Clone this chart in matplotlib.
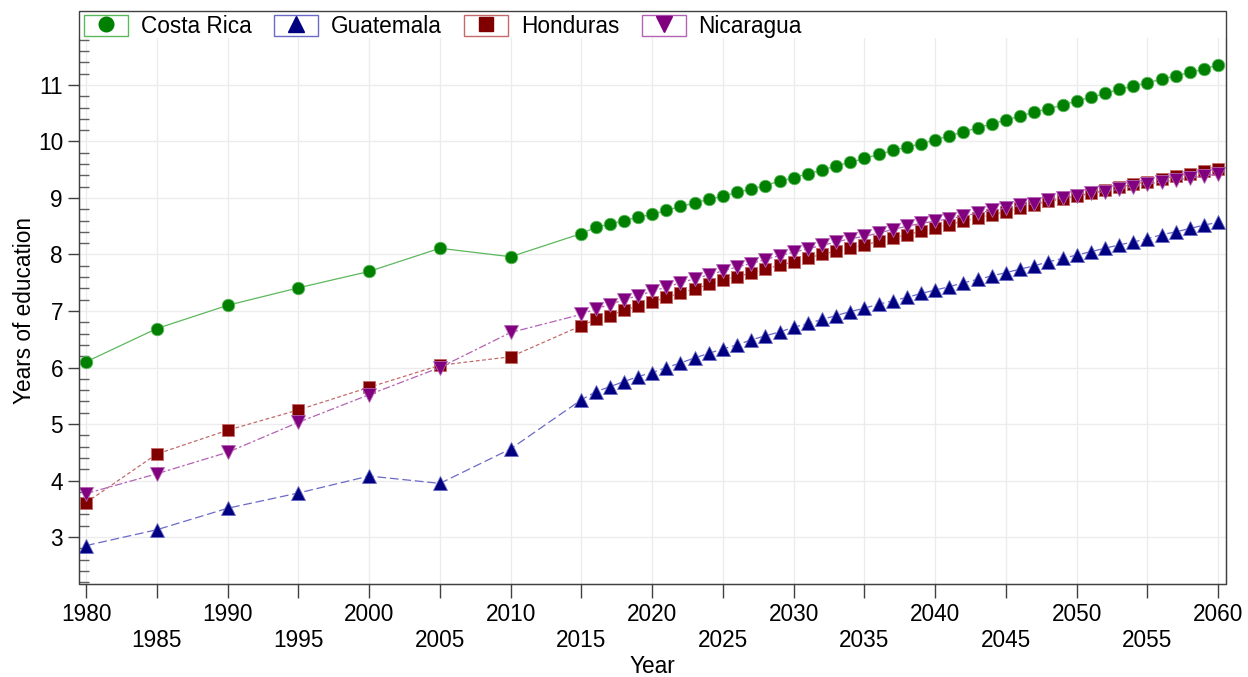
import matplotlib
matplotlib.use('Agg')
import matplotlib.pyplot as plt
from matplotlib.lines import Line2D
from matplotlib.patches import Rectangle
from matplotlib.ticker import FixedLocator

plt.rcParams['font.family'] = ['Liberation Sans', 'DejaVu Sans']

# years: 5-yearly history, then yearly projections
years = [1980, 1985, 1990, 1995, 2000, 2005, 2010, 2015] + list(range(2016, 2061))

costa_rica = [6.10, 6.69, 7.10, 7.41, 7.70, 8.11, 7.96, 8.37,
              8.48, 8.54, 8.60, 8.66, 8.71, 8.78, 8.85, 8.91, 8.98, 9.03,
              9.10, 9.16, 9.22, 9.30, 9.36, 9.43, 9.49, 9.57, 9.63, 9.70,
              9.77, 9.84, 9.90, 9.96, 10.03, 10.10, 10.17, 10.24, 10.31, 10.38,
              10.45, 10.52, 10.58, 10.64, 10.72, 10.78, 10.85, 10.92, 10.98, 11.04,
              11.10, 11.16, 11.22, 11.28, 11.36]
guatemala = [2.85, 3.13, 3.51, 3.78, 4.08, 3.95, 4.56, 5.43,
             5.57, 5.66, 5.75, 5.84, 5.91, 6.00, 6.08, 6.17, 6.25, 6.33,
             6.40, 6.49, 6.56, 6.63, 6.71, 6.78, 6.85, 6.92, 6.99, 7.05,
             7.12, 7.18, 7.24, 7.31, 7.37, 7.43, 7.50, 7.56, 7.62, 7.68,
             7.74, 7.80, 7.87, 7.93, 7.99, 8.05, 8.11, 8.17, 8.22, 8.28,
             8.35, 8.40, 8.46, 8.52, 8.57]
honduras = [3.61, 4.47, 4.89, 5.25, 5.65, 6.04, 6.19, 6.74,
            6.85, 6.92, 7.01, 7.09, 7.16, 7.24, 7.32, 7.39, 7.47, 7.54,
            7.61, 7.67, 7.74, 7.81, 7.87, 7.94, 8.00, 8.06, 8.11, 8.17,
            8.23, 8.29, 8.35, 8.41, 8.47, 8.53, 8.59, 8.65, 8.70, 8.76,
            8.82, 8.88, 8.94, 8.98, 9.03, 9.09, 9.14, 9.19, 9.24, 9.29,
            9.34, 9.38, 9.43, 9.48, 9.52]
nicaragua = [3.77, 4.12, 4.50, 5.03, 5.52, 6.00, 6.62, 6.94,
             7.04, 7.11, 7.20, 7.27, 7.35, 7.42, 7.50, 7.57, 7.64, 7.71,
             7.78, 7.84, 7.91, 7.98, 8.04, 8.10, 8.16, 8.22, 8.28, 8.32,
             8.38, 8.44, 8.50, 8.55, 8.59, 8.63, 8.68, 8.73, 8.78, 8.82,
             8.87, 8.90, 8.96, 9.00, 9.03, 9.08, 9.11, 9.16, 9.20, 9.25,
             9.28, 9.32, 9.35, 9.39, 9.42]

names = ['Costa Rica', 'Guatemala', 'Honduras', 'Nicaragua']
series = [costa_rica, guatemala, honduras, nicaragua]
colors = ['#008000', '#000080', '#800000', '#800080']
light = ['#5cb85c', '#6a6ac8', '#c46a6a', '#b463b4']
markers = ['o', '^', 's', 'v']
msizes = [9, 10, 8.5, 10]
styles = ['-', (0, (7, 3)), (0, (3, 2)), (0, (6, 2, 2, 2))]

W, H = 1248, 677
fig = plt.figure(figsize=(W / 100, H / 100), dpi=100)
ax = fig.add_axes([79 / W, 1 - 584 / H, (1226 - 79) / W, (584 - 38) / H])

for vals, c, lc, m, ms, ls in zip(series, colors, light, markers, msizes, styles):
    ax.plot(years, vals, linestyle=ls, color=lc, linewidth=0.9,
            marker=m, markersize=ms, markerfacecolor=c,
            markeredgecolor=lc, markeredgewidth=0.6)

ax.set_xlim(1979.5, 2060.55)
ax.set_ylim(2.17, 11.83)

xt = list(range(1980, 2061, 5))
ax.set_xticks(xt)
ax.set_xticklabels([str(y) if (y - 1980) % 10 == 0 else '\n' + str(y) for y in xt])
ax.set_yticks(range(3, 12))
ax.yaxis.set_minor_locator(FixedLocator([v / 10 for v in range(22, 119, 2) if v % 10 != 0]))

ax.tick_params(axis='x', which='major', direction='out', length=10, width=1,
               color='#404040', labelsize=16.3, pad=3.5)
ax.tick_params(axis='y', which='major', direction='out', length=8, width=1,
               color='#404040', labelsize=16.3, pad=3.5)
ax.tick_params(axis='y', which='minor', direction='in', length=7.5, width=1,
               color='#606060')

ax.grid(True, which='major', color='#ececec', linewidth=1)
ax.set_axisbelow(True)

for side in ['left', 'right', 'bottom']:
    ax.spines[side].set_color('#404040')
ax.spines['top'].set_visible(False)

# outer frame reaching up over the legend strip
fig.patches.append(Rectangle((79 / W, 1 - 584 / H), (1226 - 79) / W, (584 - 11) / H,
                             transform=fig.transFigure, fill=False,
                             edgecolor='#404040', linewidth=1, zorder=5))

ax.set_xlabel('Year', fontsize=16.3, labelpad=2.2)
ax.set_ylabel('Years of education', fontsize=16.3, labelpad=1)

handles = []
for c, lc, m, ms in zip(colors, light, markers, msizes):
    box = Rectangle((0, 0), 1, 1, facecolor='white', edgecolor=lc, linewidth=1)
    mk = Line2D([], [], linestyle='none', marker=m, markersize=ms + 1.5,
                markerfacecolor=c, markeredgecolor=c)
    handles.append((box, mk))

fig.legend(handles, names, loc='upper left', bbox_to_anchor=(84 / W, 1 - 15 / H),
           ncol=4, frameon=False, fontsize=16.3, handlelength=1.95, handleheight=1.06,
           handletextpad=0.55, columnspacing=1.0, borderpad=0, borderaxespad=0)

fig.savefig('out.png', dpi=100)
